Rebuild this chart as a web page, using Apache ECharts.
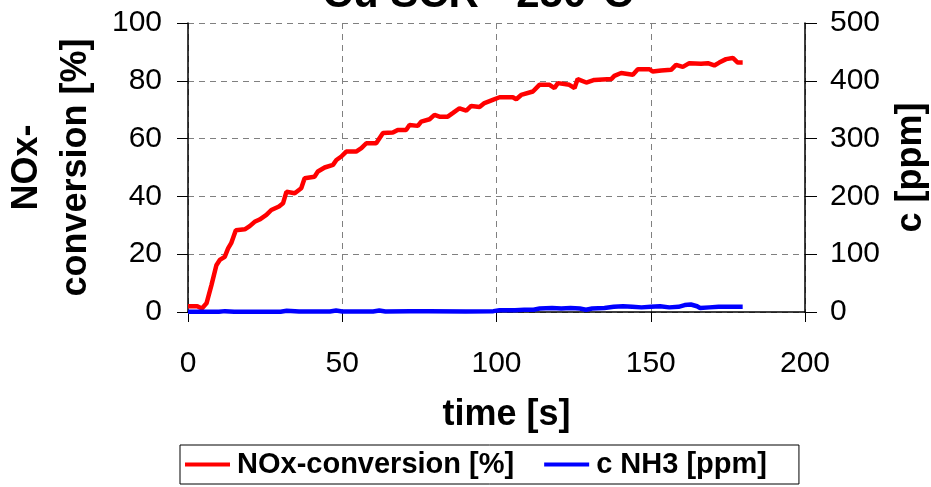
<!DOCTYPE html>
<html>
<head>
<meta charset="utf-8">
<script src="https://cdn.jsdelivr.net/npm/echarts@6/dist/echarts.min.js"></script>
<style>
  html, body { margin: 0; padding: 0; background: #fff; }
  #chart { width: 931px; height: 487px; }
</style>
</head>
<body>
<div id="chart"></div>
<script>
// NOx conversion over time (left axis, %)
const noxTime = [0, 3, 4.5, 6, 7.6, 9.2, 10.3, 11.9, 13, 14, 15.5, 18.4, 20, 21.6, 23.2, 25.4, 27, 29.5, 30.8,
  31.9, 34.6, 36.7, 37.8, 41, 42.1, 44.3, 47, 48.1, 49.7, 51.3, 54.5, 56.2, 57.8, 61, 63.2, 66.4, 68, 70.7,
  71.8, 74.5, 75.6, 78.3, 79.9, 81.5, 84.2, 85.8, 88, 90.2, 91.8, 94.5, 96.1, 98.8, 101, 105.3, 106.4, 108,
  111.8, 113.9, 117.2, 118.8, 119.9, 123.6, 125.3, 126.3, 129.1, 131.7, 137.2, 138.2, 140.4, 144.2, 145.8,
  149.6, 150.6, 153.4, 156.6, 158.2, 160.4, 162.5, 166.3, 168.5, 170.6, 172.2, 174.4, 176.6, 178.2, 179.8];
const noxConversion = [2.0, 2.0, 1.2, 3, 9.3, 16.2, 18, 19.1, 22, 23.8, 28.3, 28.6, 29.7, 31.2, 32, 33.6, 35.3, 36.5, 37.6,
  41.6, 41.1, 42.8, 46.3, 46.8, 48.6, 50, 50.9, 52.6, 53.8, 55.5, 55.5, 56.7, 58.4, 58.4, 61.9, 62.1, 63, 63,
  64.7, 64.4, 65.9, 66.7, 68.2, 67.6, 67.6, 68.8, 70.5, 69.7, 71.3, 70.9, 72.3, 73.4, 74.3, 74.3, 73.6, 75.1,
  76.3, 78.6, 78.6, 77.5, 79.2, 78.6, 77.5, 80.6, 79.4, 80.3, 80.6, 81.7, 82.7, 82.1, 84,
  84, 83.2, 83.6, 83.8, 85.5, 84.8, 86.1, 85.9, 86.1, 85.3, 86.3, 87.5, 87.9, 86.3, 86.3];

// NH3 slip over time (right axis, ppm)
const nh3Time = [0, 10, 12, 15, 30, 32, 36, 46, 48, 50, 60, 62, 64, 72, 78, 90, 99, 101, 106, 109, 112, 114,
  118, 121, 124, 127, 129, 131, 135, 138, 141, 144, 147, 150, 153, 156, 159, 161, 163, 165, 166, 169, 172, 176, 179.8];
const nh3Ppm = [0.5, 0.5, 1.5, 0.5, 0.5, 2, 1, 1, 2.5, 1, 1, 2.5, 1, 1.5, 1.5, 1, 1.5, 3, 3, 4, 4, 6,
  7, 6, 7, 6, 4, 6, 7, 9, 10, 9, 8, 9, 10, 8, 9, 12, 13, 10, 7, 8, 9, 9, 9];

const timeTicks = { min: 0, max: 200, interval: 50 };
const convTicks = { min: 0, max: 100, interval: 20 };
const ppmTicks = { min: 0, max: 500, interval: 100 };

const FONT = "'Liberation Sans', Arial, sans-serif";
const zip = (xs, ys) => xs.map((x, i) => [x, ys[i]]);

const gridDash = { color: '#808080', width: 1, type: [6, 5] };
const axisBlack = { color: '#000', width: 1.5 };

const chart = echarts.init(document.getElementById('chart'), null, { renderer: 'canvas' });
chart.setOption({
  backgroundColor: '#fff',
  animation: false,
  title: {
    text: 'Cu SCR - 250°C',
    left: 473, textAlign: 'center',
    top: -31,
    textStyle: { fontFamily: FONT, fontSize: 42, fontWeight: 'bold', color: '#000' }
  },
  grid: { left: 188, right: 126, top: 23, bottom: 175, containLabel: false, outerBoundsMode: 'none' },
  legend: {
    left: 180, top: 445,
    padding: [5, 32, 5, 5],
    borderColor: '#000', borderWidth: 1,
    icon: 'rect', itemWidth: 45, itemHeight: 4, itemGap: 30,
    textStyle: { fontFamily: FONT, fontSize: 29, fontWeight: 'bold', color: '#000', padding: [0, 0, 0, 2] },
    data: ['NOx-conversion [%]', 'c NH3 [ppm]']
  },
  xAxis: {
    type: 'value', ...timeTicks,
    name: 'time [s]', nameLocation: 'middle', nameGap: 85,
    nameTextStyle: { fontFamily: FONT, fontSize: 36, fontWeight: 'bold', color: '#000', padding: [0, 0, 0, 20] },
    axisLine: { show: true, onZero: false, lineStyle: axisBlack },
    axisTick: { show: true, length: 10, lineStyle: { color: '#000', width: 1 } },
    axisLabel: { margin: 37, fontFamily: FONT, fontSize: 30, color: '#000' },
    splitLine: { show: true, lineStyle: gridDash }
  },
  yAxis: [
    {
      type: 'value', position: 'left', ...convTicks,
      name: 'NOx-\nconversion [%]', nameLocation: 'middle', nameGap: 83,
      nameTextStyle: { fontFamily: FONT, fontSize: 36, fontWeight: 'bold', color: '#000', lineHeight: 49, align: 'center' },
      axisLine: { show: true, lineStyle: axisBlack },
      axisTick: { show: true, length: 11, lineStyle: { color: '#000', width: 1 } },
      axisLabel: { margin: 26, fontFamily: FONT, fontSize: 30, color: '#000' },
      splitLine: { show: true, lineStyle: gridDash }
    },
    {
      type: 'value', position: 'right', ...ppmTicks,
      name: 'c [ppm]', nameLocation: 'middle', nameGap: 88,
      nameTextStyle: { fontFamily: FONT, fontSize: 36, fontWeight: 'bold', color: '#000' },
      axisLine: { show: true, lineStyle: axisBlack },
      axisTick: { show: true, length: 12, lineStyle: { color: '#000', width: 1 } },
      axisLabel: { margin: 25, fontFamily: FONT, fontSize: 30, color: '#000' },
      splitLine: { show: false }
    }
  ],
  series: [
    {
      name: 'NOx-conversion [%]', type: 'line', yAxisIndex: 0,
      data: zip(noxTime, noxConversion),
      symbol: 'none', color: '#ff0000',
      lineStyle: { color: '#ff0000', width: 4.5 }, z: 3
    },
    {
      name: 'c NH3 [ppm]', type: 'line', yAxisIndex: 1,
      data: zip(nh3Time, nh3Ppm),
      symbol: 'none', color: '#0000ff',
      lineStyle: { color: '#0000ff', width: 4.5 }, z: 4
    }
  ]
});
</script>
</body>
</html>
